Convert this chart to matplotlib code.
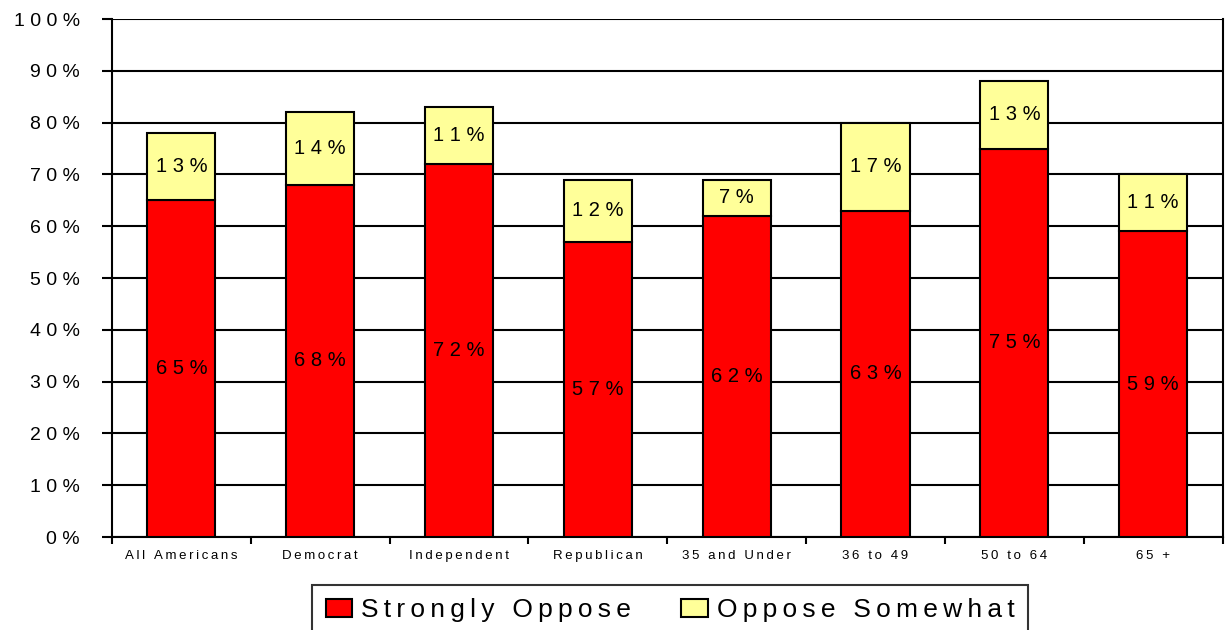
import matplotlib

matplotlib.use("Agg")
import matplotlib.pyplot as plt
import numpy as np
from matplotlib.patches import Patch

plt.rcParams["font.family"] = ["Liberation Sans", "DejaVu Sans"]

categories = ["All Americans", "Democrat", "Independent", "Republican",
              "35 and Under", "36 to 49", "50 to 64", "65 +"]
strongly_oppose = [65, 68, 72, 57, 62, 63, 75, 59]
oppose_somewhat = [13, 14, 11, 12, 7, 17, 13, 11]
y_ticks = [0, 10, 20, 30, 40, 50, 60, 70, 80, 90, 100]

RED = "#FF0000"
YELLOW = "#FFFF99"


def spaced(text, sep=" "):
    """Old spreadsheet charts render text with wide letter spacing."""
    return sep.join(text)


fig = plt.figure(figsize=(12.25, 6.3), dpi=100)
ax = fig.add_axes([0.0914, 0.1476, 0.9066, 0.8222])

x = np.arange(len(categories))
width = 0.49
ax.bar(x, strongly_oppose, width, color=RED, edgecolor="black", linewidth=1.5, zorder=3)
ax.bar(x, oppose_somewhat, width, bottom=strongly_oppose, color=YELLOW,
       edgecolor="black", linewidth=1.5, zorder=3)

for xi, s, o in zip(x, strongly_oppose, oppose_somewhat):
    ax.text(xi, s / 2, spaced(f"{s}%"), ha="center", va="center", fontsize=14.5, zorder=4)
    ax.text(xi, s + o / 2, spaced(f"{o}%"), ha="center", va="center", fontsize=14.5, zorder=4)

ax.set_xlim(-0.5, len(categories) - 0.5)
ax.set_ylim(0, 100)
ax.set_yticks(y_ticks)
ax.set_yticklabels([spaced(f"{t}%") for t in y_ticks], fontsize=14)
ax.yaxis.grid(True, color="black", linewidth=1.5, zorder=0)

# category labels sit between boundary tick marks
ax.set_xticks(x)
ax.set_xticklabels([spaced(c, "\u2009") for c in categories], fontsize=9.5)
ax.tick_params(axis="x", length=0, pad=9)
ax.set_xticks(np.arange(len(categories) + 1) - 0.5, minor=True)
ax.tick_params(axis="x", which="minor", length=5, width=1.5, direction="out")
ax.tick_params(axis="y", length=7, width=1.5, direction="out", pad=16)

for side in ["left", "right", "bottom", "top"]:
    ax.spines[side].set_linewidth(1.5)
ax.spines["top"].set_visible(False)

handles = [Patch(facecolor=RED, edgecolor="black", linewidth=1.5),
           Patch(facecolor=YELLOW, edgecolor="black", linewidth=1.5)]
leg = fig.legend(handles, [spaced("Strongly Oppose", "\u2009"),
                           spaced("Oppose Somewhat", "\u2009")],
                 loc="upper center", bbox_to_anchor=(0.547, 0.071), ncol=2,
                 fontsize=19, frameon=True, fancybox=False, edgecolor="black",
                 handlelength=1.0, handleheight=0.65, handletextpad=0.35,
                 columnspacing=1.9, borderpad=0.5, borderaxespad=0)
leg.get_frame().set_linewidth(1.5)

fig.savefig("out.png", dpi=100)
